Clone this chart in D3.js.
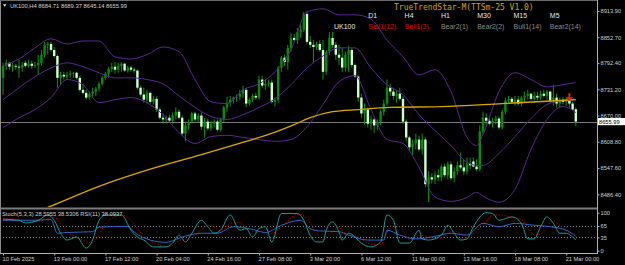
<!DOCTYPE html>
<html>
<head>
<meta charset="utf-8">
<script src="https://cdn.jsdelivr.net/npm/d3@7"></script>
<style>
body { margin: 0; background: #000; }
svg { display: block; }
text { font-family: "Liberation Sans", Arial, sans-serif; }
</style>
</head>
<body>
<script>
// UK100 H4 candles, oldest first
var opens = [
    8758,8786,8793,8784,8786,8784,8782,8793,8786,8791,
    8786,8788,8793,8812,8835,8837,8823,8809,8758,8765,
    8761,8765,8768,8770,8758,8730,8723,8712,8721,8726,
    8733,8744,8758,8768,8779,8784,8777,8786,8791,8775,
    8782,8777,8775,8735,8719,8707,8723,8702,8709,8684,
    8665,8661,8665,8658,8670,8679,8665,8628,8647,8656,
    8675,8661,8670,8644,8656,8640,8651,8656,8637,8661,
    8689,8700,8707,8712,8714,8721,8730,8698,8707,8716,
    8712,8754,8740,8744,8747,8702,8707,8782,8805,8795,
    8828,8851,8846,8865,8870,8907,8842,8835,8830,8837,
    8823,8772,8819,8851,8835,8812,8805,8782,8812,8823,
    8788,8761,8712,8675,8684,8651,8661,8647,8656,8679,
    8698,8735,8726,8716,8721,8709,8656,8619,8596,8605,
    8614,8591,8614,8510,8526,8521,8531,8526,8551,8531,
    8556,8524,8540,8554,8549,8540,8558,8563,8551,8545,
    8633,8665,8658,8651,8658,8663,8642,8679,8705,8709,
    8702,8707,8698,8712,8716,8721,8709,8716,8712,8721,
    8716,8726,8705,8712,8698,8707,8702,8707,8698,8684.71
];
var highs = [
    8793,8800,8795,8793,8791,8800,8795,8798,8800,8798,
    8795,8812,8823,8842,8842,8842,8830,8812,8772,8772,
    8772,8775,8772,8772,8763,8742,8730,8726,8735,8737,
    8749,8763,8772,8784,8793,8795,8793,8795,8793,8786,
    8786,8782,8777,8740,8735,8730,8726,8716,8714,8689,
    8675,8670,8672,8677,8689,8684,8670,8656,8661,8679,
    8679,8675,8677,8665,8663,8658,8661,8661,8665,8693,
    8714,8716,8714,8719,8730,8740,8735,8712,8721,8723,
    8763,8763,8754,8754,8754,8712,8786,8809,8812,8835,
    8863,8860,8874,8881,8912,8914,8856,8846,8842,8846,
    8846,8823,8865,8865,8842,8835,8828,8819,8833,8828,
    8791,8765,8721,8698,8689,8670,8665,8661,8684,8707,
    8754,8744,8735,8730,8735,8716,8661,8623,8614,8628,
    8623,8628,8619,8540,8535,8540,8545,8556,8558,8563,
    8563,8549,8563,8584,8568,8572,8572,8572,8568,8647,
    8679,8675,8668,8665,8670,8668,8684,8712,8716,8714,
    8716,8716,8716,8726,8730,8723,8726,8726,8728,8730,
    8730,8728,8742,8721,8712,8714,8712,8712,8702,8689.37
];
var lows = [
    8719,8777,8777,8772,8777,8758,8772,8782,8782,8779,
    8782,8765,8786,8805,8812,8819,8805,8735,8742,8754,
    8754,8758,8758,8754,8726,8719,8707,8707,8712,8716,
    8726,8740,8754,8758,8772,8768,8770,8772,8772,8770,
    8772,8770,8730,8714,8700,8698,8698,8696,8679,8661,
    8651,8651,8654,8651,8661,8661,8623,8610,8637,8651,
    8656,8654,8637,8619,8635,8635,8642,8633,8633,8656,
    8679,8691,8698,8702,8707,8712,8689,8693,8702,8707,
    8707,8735,8730,8737,8698,8691,8700,8772,8786,8777,
    8819,8842,8837,8851,8865,8837,8828,8793,8823,8819,
    8754,8765,8812,8828,8800,8788,8772,8772,8772,8782,
    8758,8702,8665,8649,8642,8637,8630,8637,8647,8670,
    8693,8716,8707,8700,8705,8651,8610,8586,8577,8591,
    8586,8579,8503,8468,8512,8510,8517,8517,8526,8521,
    8519,8514,8531,8545,8531,8533,8545,8549,8540,8540,
    8628,8647,8647,8642,8649,8637,8637,8672,8700,8698,
    8693,8693,8691,8702,8707,8705,8700,8705,8707,8712,
    8707,8700,8693,8689,8689,8696,8693,8689,8682,8645.14
];
var closes = [
    8786,8793,8784,8786,8784,8782,8788,8786,8791,8786,
    8788,8793,8812,8835,8837,8823,8809,8758,8765,8761,
    8765,8768,8770,8758,8730,8723,8712,8721,8726,8733,
    8744,8758,8768,8779,8784,8777,8786,8791,8775,8782,
    8777,8775,8735,8719,8707,8723,8702,8709,8684,8665,
    8661,8665,8658,8670,8679,8665,8628,8647,8656,8675,
    8661,8670,8644,8656,8640,8651,8656,8637,8661,8689,
    8700,8707,8712,8714,8721,8730,8698,8707,8716,8712,
    8754,8740,8744,8747,8702,8707,8782,8805,8795,8828,
    8851,8846,8865,8870,8907,8842,8835,8830,8837,8823,
    8772,8819,8851,8835,8812,8805,8782,8812,8823,8788,
    8761,8712,8675,8684,8651,8661,8647,8656,8679,8698,
    8735,8726,8716,8721,8709,8656,8619,8596,8605,8614,
    8591,8614,8510,8526,8521,8531,8526,8551,8531,8556,
    8524,8540,8554,8549,8540,8558,8554,8551,8545,8633,
    8665,8658,8651,8658,8663,8642,8679,8705,8709,8702,
    8707,8698,8712,8716,8721,8709,8716,8712,8721,8716,
    8726,8705,8712,8698,8707,8702,8707,8698,8684,8655.99
];

// bollinger bands, read at these bars
var bbIdx = [0,5,10,15,20,25,30,35,40,45,50,55,60,65,70,75,80,85,90,95,100,105,110,115,120,125,130,135,140,145,148,150,155,160,165,170,175,179];
var bbUpper = [8786,8802,8828,8849,8837,8844,8844,8807,8802,8812,8830,8819,8754,8702,8698,8730,8744,8772,8823,8912,8919,8905,8905,8895,8846,8807,8765,8777,8726,8619,8600,8626,8726,8770,8754,8737,8742,8747];
var bbMiddle = [8707,8735,8761,8781,8793,8784,8770,8758,8758,8754,8744,8716,8689,8668,8661,8672,8689,8709,8742,8781,8809,8828,8828,8781,8742,8719,8672,8635,8600,8561,8554,8554,8582,8621,8663,8696,8705,8707];
var bbLower = [8642,8665,8684,8712,8754,8742,8700,8707,8712,8700,8672,8630,8605,8621,8624,8619,8614,8610,8614,8644,8696,8749,8763,8684,8614,8605,8549,8480,8470,8479,8491,8482,8468,8498,8591,8661,8691,8677];

// long moving average
var maIdx = [0,14,30,46,62,76,83,91,96,103,111,121,137,156,179];
var maValues = [8417,8456,8505,8545,8579,8610,8626,8649,8665,8679,8684,8689,8691,8698,8707];

// stochastic (5,3,3) main + signal
var stIdx = [0,5,7,11,14,16,18,20,23,26,28,30,32,37,40,42,44,47,51,53,55,57,59,62,64,66,68,71,74,76,78,80,82,84,87,92,94,96,98,100,101,103,105,106,108,111,112,115,118,120,122,124,127,130,131,133,137,139,141,143,145,147,151,153,155,159,162,164,166,168,170,172,174,176,178,179];
var stMain = [83,80,73,80,94,80,46,28,36,7,28,80,94,94,54,36,28,10,10,20,41,23,46,80,63,46,54,94,54,58,36,58,63,23,98,98,80,40,23,23,54,76,49,28,46,28,20,10,23,94,80,20,20,54,31,28,41,67,46,28,31,63,100,98,80,89,72,31,31,63,89,72,46,46,36,28.5955];
var stSignal = [85,82,78,77,85,88,72,50,36,24,20,42,70,94,80,58,40,22,12,14,26,30,35,55,66,62,52,72,74,62,50,50,56,46,62,96,92,72,46,28,34,52,62,52,42,36,30,17,16,48,72,64,30,34,40,36,33,46,52,46,34,44,78,94,94,88,82,60,42,44,64,78,66,52,44,38.5306];

// rsi (11)
var rsiIdx = [0,9,15,17,20,28,30,39,41,46,51,56,62,67,72,77,82,87,93,96,99,105,108,114,119,120,124,129,134,140,145,150,155,160,166,171,176,179];
var rsiValues = [80,80,82,46,48,50,62,64,49,28,22,36,46,46,63,58,48,67,80,58,52,50,41,28,28,54,41,31,36,46,41,72,63,72,67,63,54,38.0937];

// sell arrow of the indicator
var arrowIdx = [177];
var arrowPrice = [8722];

// axis labels
var priceTicks = [8913.90, 8852.70, 8792.40, 8731.20, 8670.00, 8608.80, 8547.60, 8486.40];
var subTicks = [100, 65, 35, 0];
var subLevels = [65, 35];
var timeIdx = [0,16,32,48,64,80,96,112,128,144,160,176];
var timeLabels = ["10 Feb 2025","13 Feb 00:00","17 Feb 12:00","20 Feb 04:00","24 Feb 16:00","27 Feb 08:00","3 Mar 20:00","6 Mar 12:00","11 Mar 00:00","13 Mar 16:00","18 Mar 08:00","21 Mar 00:00"];

// TrueTrendStar panel
var panelTitle = "TrueTrendStar-M(TTSm-25 V1.0)";
var panelSymbol = "UK100";
var timeframes = ["D1","H4","H1","M30","M15","M5"];
var tfSignals = ["Sell1(12)","Sell1(2)","Bear2(1)","Bear2(2)","Bull1(14)","Bear2(14)"];

var lastPrice = closes[closes.length - 1];

// dimensions
var width = 625;
var height = 265;
var plotRight = 597;
var mainBottom = 207;
var subTop = 210;
var subBottom = 253;

var svg = d3.select("body")
    .append("svg")
    .attr("width", width)
    .attr("height", height)
    .style("background", "#000");

var x = d3.scaleLinear().domain([0, closes.length - 1]).range([3, 575.8]);
var y = d3.scaleLinear().domain([8486.4, 8913.9]).range([194.3, 11]);
var ySub = d3.scaleLinear().domain([0, 100]).range([250.7, 212.7]);

var defs = svg.append("defs");
defs.append("clipPath").attr("id", "clip-main")
    .append("rect")
    .attr("x", 1).attr("y", 1)
    .attr("width", plotRight - 1).attr("height", mainBottom - 1);
defs.append("clipPath").attr("id", "clip-sub")
    .append("rect")
    .attr("x", 1).attr("y", subTop)
    .attr("width", plotRight - 1).attr("height", subBottom - subTop);

// frame
svg.append("line").attr("x1", 0.5).attr("x2", 0.5).attr("y1", 0).attr("y2", subBottom)
    .attr("stroke", "#8a8a8a");
svg.append("line").attr("x1", 0).attr("x2", plotRight).attr("y1", 0.5).attr("y2", 0.5)
    .attr("stroke", "#6a6a6a");
svg.append("rect").attr("x", 0).attr("y", mainBottom + 0.5)
    .attr("width", plotRight).attr("height", 2)
    .attr("fill", "#7c7c7c");
svg.append("line").attr("x1", 0).attr("x2", plotRight + 0.5).attr("y1", subBottom + 0.5).attr("y2", subBottom + 0.5)
    .attr("stroke", "#b0b0b0");
svg.append("line").attr("x1", plotRight + 0.5).attr("x2", plotRight + 0.5).attr("y1", 0).attr("y2", subBottom + 1)
    .attr("stroke", "#b0b0b0");

var mainG = svg.append("g").attr("clip-path", "url(#clip-main)");

// current price line
mainG.append("line")
    .attr("x1", 0).attr("x2", plotRight)
    .attr("y1", Math.round(y(lastPrice)) + 0.5).attr("y2", Math.round(y(lastPrice)) + 0.5)
    .attr("stroke", "#7a7a7a");

// candles
var candle = mainG.selectAll(".candle")
    .data(d3.range(closes.length))
    .enter().append("g")
    .attr("class", "candle");

candle.append("line")
    .attr("x1", function(i) { return x(i); })
    .attr("x2", function(i) { return x(i); })
    .attr("y1", function(i) { return y(highs[i]); })
    .attr("y2", function(i) { return y(lows[i]); })
    .attr("stroke", "#13a313")
    .attr("stroke-width", 0.9);

candle.append("rect")
    .attr("x", function(i) { return x(i) - 1.2; })
    .attr("width", 2.4)
    .attr("y", function(i) { return y(Math.max(opens[i], closes[i])); })
    .attr("height", function(i) {
        return Math.max(Math.abs(y(opens[i]) - y(closes[i])), 0.8);
    })
    .attr("fill", function(i) {
        return closes[i] >= opens[i] ? "#0c8a0c" : "#ccffcc";
    });

// indicator lines over the price
function bandLine(idx, vals) {
    return d3.line()
        .x(function(d, k) { return x(idx[k]); })
        .y(function(d) { return y(d); })
        .curve(d3.curveMonotoneX)(vals);
}

[bbUpper, bbMiddle, bbLower].forEach(function(vals) {
    mainG.append("path")
        .attr("d", bandLine(bbIdx, vals))
        .attr("fill", "none")
        .attr("stroke", "#55288f")
        .attr("stroke-width", 1);
});

mainG.append("path")
    .attr("d", bandLine(maIdx, maValues))
    .attr("fill", "none")
    .attr("stroke", "#d9a800")
    .attr("stroke-width", 1.3);

// sell arrow
mainG.selectAll(".arrow")
    .data(arrowIdx)
    .enter().append("path")
    .attr("class", "arrow")
    .attr("transform", function(d, k) {
        return "translate(" + x(d) + "," + y(arrowPrice[k]) + ")";
    })
    .attr("d", "M-1,0L1,0L1,4L3.6,4L0,8L-3.6,4L-1,4Z")
    .attr("fill", "#ff1a1a");

// price axis
var yAxis = svg.append("g")
    .attr("transform", "translate(" + (plotRight + 0.5) + ",0)")
    .call(d3.axisRight(y).tickValues(priceTicks).tickFormat(d3.format(".2f")).tickSize(2).tickPadding(1));
yAxis.select(".domain").remove();

// current price box
svg.append("rect")
    .attr("x", plotRight + 1)
    .attr("y", y(lastPrice) - 3.6)
    .attr("width", 27)
    .attr("height", 7.2)
    .attr("fill", "#fff");
svg.append("text")
    .attr("x", plotRight + 2)
    .attr("y", y(lastPrice) + 2.1)
    .attr("fill", "#000")
    .style("font-size", "5.7px")
    .text(d3.format(".2f")(lastPrice));

// oscillator pane
var subG = svg.append("g").attr("clip-path", "url(#clip-sub)");

subG.selectAll(".level")
    .data(subLevels)
    .enter().append("line")
    .attr("class", "level")
    .attr("x1", 0).attr("x2", plotRight)
    .attr("y1", function(d) { return Math.round(ySub(d)) + 0.5; })
    .attr("y2", function(d) { return Math.round(ySub(d)) + 0.5; })
    .attr("stroke", "#8a8a8a")
    .attr("stroke-dasharray", "1,2");

function subLine(idx, vals) {
    return d3.line()
        .x(function(d, k) { return x(idx[k]); })
        .y(function(d) { return ySub(d); })
        .curve(d3.curveMonotoneX)(vals);
}

subG.append("path")
    .attr("d", subLine(stIdx, stSignal))
    .attr("fill", "none")
    .attr("stroke", "#b00000")
    .attr("stroke-width", 0.9)
    .attr("stroke-dasharray", "1.5,1.5");
subG.append("path")
    .attr("d", subLine(rsiIdx, rsiValues))
    .attr("fill", "none")
    .attr("stroke", "#2f66c8")
    .attr("stroke-width", 1);
subG.append("path")
    .attr("d", subLine(stIdx, stMain))
    .attr("fill", "none")
    .attr("stroke", "#1f9a94")
    .attr("stroke-width", 1);

var subAxis = svg.append("g")
    .attr("transform", "translate(" + (plotRight + 0.5) + ",0)")
    .call(d3.axisRight(ySub).tickValues(subTicks).tickSize(2).tickPadding(1));
subAxis.select(".domain").remove();

// time axis
var xAxis = svg.append("g")
    .attr("transform", "translate(0," + (subBottom + 0.5) + ")")
    .call(d3.axisBottom(x).tickValues(timeIdx)
        .tickFormat(function(d, i) { return timeLabels[i]; })
        .tickSize(2).tickPadding(1.5));
xAxis.select(".domain").remove();
xAxis.selectAll("text").attr("text-anchor", "start").attr("x", -1);

// axis styling
svg.selectAll(".tick line").attr("stroke", "#b0b0b0");
svg.selectAll(".tick text")
    .attr("fill", "#d0d0d0")
    .style("font-family", "'Liberation Sans', Arial, sans-serif")
    .style("font-size", "5.7px");

// header
svg.append("path")
    .attr("d", "M2.8,4.2L6.6,4.2L4.7,6.8Z")
    .attr("fill", "#d8d8d8");
svg.append("text")
    .attr("x", 10).attr("y", 8.3)
    .attr("fill", "#d0d0d0")
    .style("font-size", "5.8px")
    .text("UK100,H4  " + [opens, highs, lows, closes].map(function(a) {
        return d3.format(".2f")(a[a.length - 1]);
    }).join(" "));

svg.append("text")
    .attr("x", 2).attr("y", 216.3)
    .attr("fill", "#d0d0d0")
    .style("font-size", "5.8px")
    .text("Stoch(5,3,3) " + stMain[stMain.length - 1] + " " + stSignal[stSignal.length - 1] +
        "  RSI(11) " + rsiValues[rsiValues.length - 1]);

// trend panel
svg.append("text")
    .attr("x", 394).attr("y", 9.6)
    .attr("fill", "#d2a400")
    .style("font-family", "'DejaVu Sans Mono', monospace")
    .style("font-size", "8px")
    .text(panelTitle);

svg.append("text")
    .attr("x", 334).attr("y", 29)
    .attr("fill", "#e6e6e6")
    .style("font-size", "7px")
    .text(panelSymbol);

svg.selectAll(".tf")
    .data(timeframes)
    .enter().append("text")
    .attr("class", "tf")
    .attr("x", function(d, i) { return 368.3 + i * 36.3; })
    .attr("y", 18.3)
    .attr("fill", "#e6e6e6")
    .style("font-size", "7px")
    .text(function(d) { return d; });

svg.selectAll(".tfsig")
    .data(tfSignals)
    .enter().append("text")
    .attr("class", "tfsig")
    .attr("x", function(d, i) { return 368.3 + i * 36.3; })
    .attr("y", 29)
    .attr("fill", function(d) { return d.indexOf("Sell") === 0 ? "#dd0000" : "#8c8c8c"; })
    .style("font-size", "7px")
    .text(function(d) { return d; });
</script>
</body>
</html>
